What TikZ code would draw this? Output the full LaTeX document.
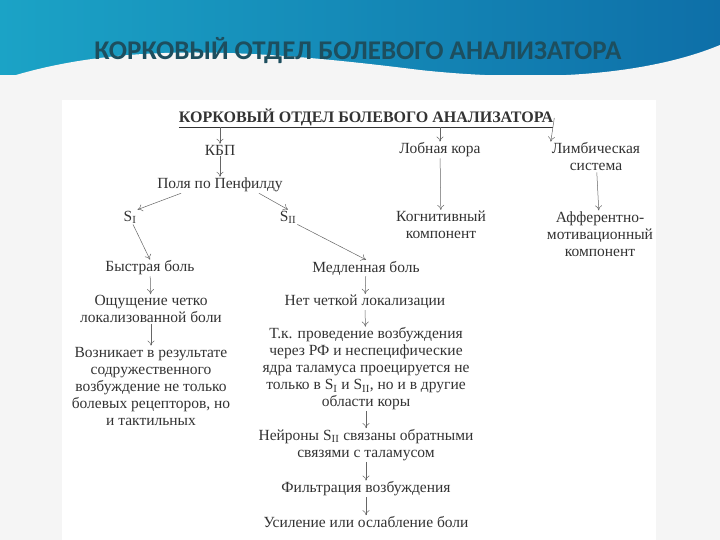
\documentclass[tikz,border=0pt]{standalone}
\usepackage{fontspec}
\setmainfont{Liberation Serif}
\newfontfamily\titlefont{Carlito}
\usetikzlibrary{arrows.meta}
\definecolor{teal1}{HTML}{1BA3C6}
\definecolor{teal2}{HTML}{0E6FA8}
\definecolor{titlec}{HTML}{1D4E5E}
\definecolor{txt}{HTML}{333333}
\begin{document}
\begin{tikzpicture}[x=1pt,y=-1pt,
  t/.style={font=\fontsize{15.5}{17}\selectfont, text=txt, align=center, inner sep=1pt},
  ar/.style={draw=gray!80!black, line width=0.5pt, -{To[length=5pt,width=7pt]}}]
\useasboundingbox (0,0) rectangle (720,540);
\fill[white!92!gray] (0,0) rectangle (720,540);
\fill[left color=teal1,right color=teal2] (0,0) rectangle (720,75);
\fill[white!92!gray] (0,80) .. controls (120,40) and (260,50) .. (420,70) .. controls (560,85) and (660,70) .. (720,45) -- (720,540) -- (0,540) -- cycle;
\fill[white] (62,100) rectangle (656,540);
\node[font=\titlefont\bfseries\fontsize{27}{29}\selectfont, text=titlec] (H) at (358,51) {КОРКОВЫЙ ОТДЕЛ БОЛЕВОГО АНАЛИЗАТОРА};
\node[t,font=\bfseries\fontsize{16}{18}\selectfont] (T) at (366,118) {\underline{КОРКОВЫЙ ОТДЕЛ БОЛЕВОГО АНАЛИЗАТОРА}};
\node[t] (kbp) at (220,150) {КБП};
\node[t] (lob) at (440,150) {Лобная кора};
\node[t] (lim) at (596,157) {Лимбическая\\система};
\node[t] (pen) at (220,185) {Поля по Пенфилду};
\node[t] (s1) at (130,217) {S\textsubscript{I}};
\node[t] (s2) at (288,217) {S\textsubscript{II}};
\node[t] (cog) at (441,225) {Когнитивный\\компонент};
\node[t] (aff) at (600,234) {Афферентно-\\мотивационный\\компонент};
\node[t] (fast) at (150,268) {Быстрая боль};
\node[t] (slow) at (366,268) {Медленная боль};
\node[t] (loc) at (151,309) {Ощущение четко\\локализованной боли};
\node[t] (noloc) at (365,302) {Нет четкой локализации};
\node[t] (voz) at (151,386) {Возникает в результате\\содружественного\\возбуждение не только\\болевых рецепторов, но\\и тактильных};
\node[t] (tk) at (366,369) {Т.к. проведение возбуждения\\через РФ и неспецифические\\ядра таламуса проецируется не\\только в S\textsubscript{I} и S\textsubscript{II}, но и в другие\\области коры};
\node[t] (ner) at (366,445) {Нейроны S\textsubscript{II} связаны обратными\\связями с таламусом};
\node[t] (fil) at (366,489) {Фильтрация возбуждения};
\node[t] (usi) at (366,522) {Усиление или ослабление боли};
\draw[ar] (220,127) -- (kbp);
\draw[ar] (440,127) -- (lob);
\draw[ar] (T.east) -- (lim.north west);
\draw[ar] (kbp) -- (pen);
\draw[ar] (pen.south west) ++(25,0) -- (s1.north east);
\draw[ar] (pen.south east) ++(-25,0) -- (s2.north);
\draw[ar] (lob) -- (cog);
\draw[ar] (lim) -- (aff);
\draw[ar] (s1.south) ++(3,0) -- (fast.north);
\draw[ar] (s2.south east) -- (slow.north);
\draw[ar] (fast) -- (loc);
\draw[ar] (slow) -- (noloc);
\draw[ar] (loc) -- (voz);
\draw[ar] (noloc) -- (tk);
\draw[ar] (tk) -- (ner);
\draw[ar] (ner) -- (fil);
\draw[ar] (fil) -- (usi);
\end{tikzpicture}
\end{document}
